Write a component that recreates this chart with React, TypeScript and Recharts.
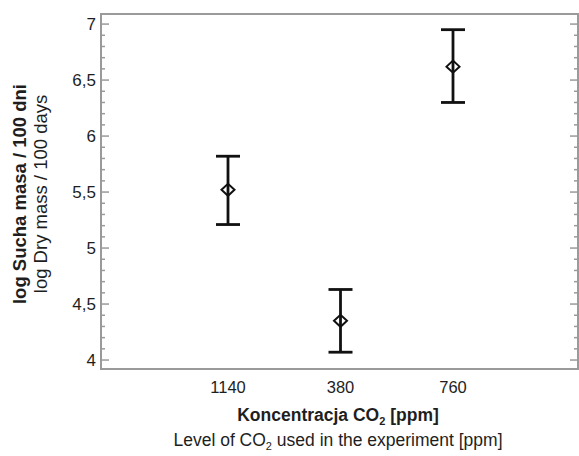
import { ComposedChart, Scatter, ErrorBar, XAxis, YAxis } from 'recharts';

const categories = ['1140', '380', '760'];
const means = [5.52, 4.35, 6.62];
const lowers = [5.21, 4.07, 6.3];
const uppers = [5.82, 4.63, 6.95];

const yMajor = [4, 4.5, 5, 5.5, 6, 6.5, 7];
const yTicks = Array.from({ length: 31 }, (_, i) => Math.round((4 + i * 0.1) * 10) / 10);
const yDomain: [number, number] = [3.92, 7.09];

const data = categories.map((label, i) => ({
  label,
  mean: means[i],
  err: [means[i] - lowers[i], uppers[i] - means[i]],
}));

const W = 579;
const H = 456;
const MARGIN = { top: 14, right: 1, bottom: 0, left: 41 };
const Y_AXIS_W = 60;
const PLOT_W = W - MARGIN.left - MARGIN.right - Y_AXIS_W;

const FONT = '"Liberation Sans", Arial, sans-serif';
const FRAME = '#9a9a9a';
const INK = '#1e1e1e';

const isMajor = (v: number) => yMajor.some((m) => Math.abs(m - v) < 1e-6);

// ticks point inward on both sides of the frame; right side mirrors the left
const LeftTick = (props: any) => {
  const { x, y, payload } = props;
  const v = payload.value as number;
  const major = isMajor(v);
  const len = major ? 8 : 4;
  const ax = x + 5;
  const rx = ax + PLOT_W;
  return (
    <g>
      <line x1={ax} x2={ax + len} y1={y} y2={y} stroke={FRAME} strokeWidth={1.5} />
      <line x1={rx - len} x2={rx} y1={y} y2={y} stroke={FRAME} strokeWidth={1.5} />
      {major && (
        <text x={x} y={y} dy="0.36em" textAnchor="end" fontSize={17} fill={INK} fontFamily={FONT}>
          {String(v).replace('.', ',')}
        </text>
      )}
    </g>
  );
};

const Diamond = (props: any) => {
  const { cx, cy } = props;
  return (
    <path
      d={`M${cx - 6.5},${cy} L${cx},${cy - 6} L${cx + 6.5},${cy} L${cx},${cy + 6} Z`}
      fill="none"
      stroke="#111"
      strokeWidth={2}
    />
  );
};

const XTitle = (props: any) => {
  const { viewBox } = props;
  const cx = 338;
  const top = viewBox.y;
  return (
    <g fontFamily={FONT} fill={INK}>
      <text x={cx} y={top + 52} textAnchor="middle" fontSize={17.5} fontWeight="bold">
        Koncentracja CO<tspan fontSize={11} dy={4}>2</tspan>
        <tspan dy={-4}> [ppm]</tspan>
      </text>
      <text x={cx} y={top + 77} textAnchor="middle" fontSize={17.5}>
        Level of CO<tspan fontSize={11} dy={4}>2</tspan>
        <tspan dy={-4}> used in the experiment [ppm]</tspan>
      </text>
    </g>
  );
};

// y title plus the grey box round the plot area (taken from the axis viewBox)
const YTitle = (props: any) => {
  const { viewBox } = props;
  const cy = 194;
  return (
    <g fontFamily={FONT} fill={INK}>
      <rect
        x={viewBox.x + viewBox.width}
        y={viewBox.y}
        width={PLOT_W}
        height={viewBox.height}
        fill="none"
        stroke={FRAME}
        strokeWidth={2}
      />
      <text x={26} y={cy} textAnchor="middle" fontSize={18.5} fontWeight="bold" transform={`rotate(-90 26 ${cy})`}>
        log Sucha masa / 100 dni
      </text>
      <text x={47} y={cy} textAnchor="middle" fontSize={18.5} transform={`rotate(-90 47 ${cy})`}>
        log Dry mass / 100 days
      </text>
    </g>
  );
};

export default function App() {
  return (
    <div style={{ position: 'absolute', left: 0, top: 0, background: '#fff' }}>
      <ComposedChart width={W} height={H} data={data} margin={MARGIN}>
        <XAxis
          dataKey="label"
          type="category"
          height={87}
          padding={{ left: 127, right: 125 }}
          axisLine={false}
          tickLine={false}
          tickSize={0}
          tickMargin={12}
          tick={{ fontSize: 16.5, fill: INK, fontFamily: FONT }}
          label={{ content: <XTitle /> }}
        />
        <YAxis
          type="number"
          domain={yDomain}
          ticks={yTicks}
          interval={0}
          allowDataOverflow
          width={Y_AXIS_W}
          tickSize={0}
          tickMargin={5}
          tickLine={false}
          axisLine={false}
          tick={<LeftTick />}
          label={{ content: <YTitle /> }}
        />
        <Scatter dataKey="mean" shape={<Diamond />} isAnimationActive={false}>
          <ErrorBar dataKey="err" direction="y" width={12} stroke="#111" strokeWidth={2.8} />
        </Scatter>
      </ComposedChart>
    </div>
  );
}
